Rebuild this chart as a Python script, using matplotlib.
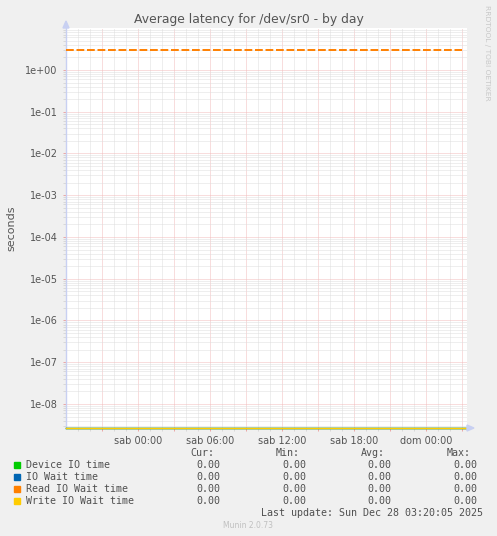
import numpy as np
import matplotlib.pyplot as plt
from matplotlib.patches import Rectangle, Polygon
from matplotlib.ticker import FixedLocator, FixedFormatter, LogLocator, NullFormatter

# Размер картинки в пикселях
W, H = 497, 536

# Данные (часы от пятницы 00:00)
series_names = ['Device IO time', 'IO Wait time', 'Read IO Wait time', 'Write IO Wait time']
series_colors = ['#00cc00', '#0066b3', '#ff8000', '#ffcc00']
zero_hours = [18.0, 51.42]
device_io = [0.0, 0.0]
io_wait = [0.0, 0.0]
write_wait = [0.0, 0.0]
read_hours = [18.0, 51.0]
read_wait = [3.0, 3.0]

cur_vals = ['0.00', '0.00', '0.00', '0.00']
min_vals = ['0.00', '0.00', '0.00', '0.00']
avg_vals = ['0.00', '0.00', '0.00', '0.00']
max_vals = ['0.00', '0.00', '0.00', '0.00']

x_label_hours = [24, 30, 36, 42, 48]
x_labels = ['sab 00:00', 'sab 06:00', 'sab 12:00', 'sab 18:00', 'dom 00:00']
y_exponents = list(range(-8, 1))

x_min, x_max = 18.0, 51.42
y_min, y_max = 2.66e-9, 10.1


def fx(x):
    return x / W


def fy(y):
    return 1 - y / H


fig = plt.figure(figsize=(W / 100, H / 100), dpi=100, facecolor='#f0f0f0')
ax = fig.add_axes([fx(66), fy(428), (467 - 66) / W, (428 - 28) / H])
ax.set_facecolor('white')
ax.set_yscale('log')
ax.set_xlim(x_min, x_max)
ax.set_ylim(y_min, y_max)

# Сетка
major_x = np.arange(21, 52, 3)
ax.xaxis.set_major_locator(FixedLocator(major_x))
ax.xaxis.set_major_formatter(FixedFormatter(
    [x_labels[x_label_hours.index(h)] if h in x_label_hours else '' for h in major_x]))
ax.xaxis.set_minor_locator(FixedLocator(np.arange(19, 52, 1)))
ax.yaxis.set_major_locator(FixedLocator([10.0 ** e for e in y_exponents]))
ax.yaxis.set_major_formatter(FixedFormatter(['%.0e' % (10.0 ** e) for e in y_exponents]))
ax.yaxis.set_minor_locator(LogLocator(base=10, subs=np.arange(2, 10), numticks=30))
ax.yaxis.set_minor_formatter(NullFormatter())

ax.grid(which='minor', color='#dedede', linestyle=(0, (1, 1)), linewidth=0.72)
ax.grid(which='major', color='#f2bcbc', linestyle=(0, (1, 1)), linewidth=0.72)
ax.set_axisbelow(True)

ax.tick_params(which='major', length=2, width=0.72, color='#eaa8a8',
               labelsize=7, labelcolor='#555555', pad=4)
ax.tick_params(which='minor', length=2, width=0.72, color='#d8d8d8')

for side in ['top', 'right']:
    ax.spines[side].set_visible(False)
ax.spines['left'].set_color('#c8d0f2')
ax.spines['bottom'].set_color('#c8d0f2')
ax.spines['left'].set_linewidth(1)
ax.spines['bottom'].set_linewidth(1)

# Линии серий (нули рисуются у нижней границы)
for vals, col in zip([device_io, io_wait, write_wait], [series_colors[0], series_colors[1], series_colors[3]]):
    ax.plot(zero_hours, np.maximum(vals, y_min), color=col, linewidth=1.0, clip_on=False, zorder=3)
ax.plot(read_hours, read_wait, color=series_colors[2], linewidth=1.4,
        linestyle=(0, (4, 1.4)), zorder=3)

# Стрелки осей
fig.patches.append(Polygon([[fx(63), fy(28)], [fx(69), fy(28)], [fx(66), fy(21)]],
                           closed=True, color='#c8d0f2', transform=fig.transFigure))
fig.patches.append(Polygon([[fx(467), fy(425)], [fx(467), fy(431)], [fx(474), fy(428)]],
                           closed=True, color='#c8d0f2', transform=fig.transFigure))

# Подписи
fig.text(fx(249), fy(19), 'Average latency for /dev/sr0 - by day', ha='center', va='center',
         fontsize=8.9, color='#555555')
fig.text(fx(11), fy(228), 'seconds', rotation=90, ha='center', va='center',
         fontsize=8, color='#555555')
fig.text(fx(487), fy(53), 'RRDTOOL / TOBI OETIKER', rotation=270, ha='center', va='center',
         fontsize=5.4, color='#c8c8c8')
fig.text(fx(248), fy(525), 'Munin 2.0.73', ha='center', va='center', fontsize=5.5, color='#c0c0c0')

# Легенда
mono = dict(family='DejaVu Sans Mono', fontsize=7.2, color='#505050', va='center')
header_y = 453
for name, x in zip(['Cur:', 'Min:', 'Avg:', 'Max:'], [190, 276, 361, 447]):
    fig.text(fx(x), fy(header_y), name, ha='left', **mono)

row_y = [465, 477, 489, 501]
for i, name in enumerate(series_names):
    y = row_y[i]
    fig.patches.append(Rectangle((fx(14), fy(y + 3)), 6 / W, 6 / H, color=series_colors[i],
                                 transform=fig.transFigure))
    fig.text(fx(26), fy(y), name, ha='left', **mono)
    for vals, x in zip([cur_vals, min_vals, avg_vals, max_vals], [220, 306, 391, 477]):
        fig.text(fx(x), fy(y), vals[i], ha='right', **mono)

fig.text(fx(483), fy(513), 'Last update: Sun Dec 28 03:20:05 2025', ha='right', **mono)

fig.savefig('out.png', dpi=100, facecolor=fig.get_facecolor())
plt.close(fig)
